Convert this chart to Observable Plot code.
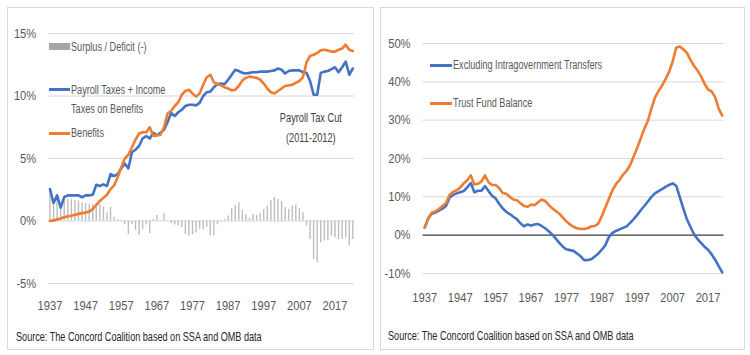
<!DOCTYPE html>
<html>
<head>
<meta charset="utf-8">
<script src="https://cdn.jsdelivr.net/npm/d3@7"></script>
<script src="https://cdn.jsdelivr.net/npm/@observablehq/plot@0.6"></script>
<style>
  html, body { margin: 0; padding: 0; background: #fff; }
  #root { position: relative; width: 750px; height: 355px; background: #fff; overflow: hidden;
          font-family: "Liberation Sans", Arial, sans-serif; }
  .panel { position: absolute; box-sizing: border-box; border: 1px solid #d9d9d9; }
  .plot { position: absolute; top: 0; }
  .lg { position: absolute; font-size: 12.5px; color: #595959; line-height: 14px; white-space: nowrap;
        transform: scaleX(0.73); transform-origin: left center; }
  .sw { position: absolute; }
  .src { position: absolute; font-size: 13px; color: #262626; white-space: nowrap; line-height: 14px;
         transform: scaleX(0.70); transform-origin: left center; }
</style>
</head>
<body>
<div id="root">
  <div class="panel" style="left:7px;top:7px;width:367px;height:343px"></div>
  <div class="panel" style="left:380px;top:7px;width:365px;height:343px"></div>
</div>
<script>
// ---------- Left panel data (percent of taxable payroll), 1937–2022 ----------
const leftStartYear = 1937;
const leftTaxes = [
  2.56, 1.44, 2.05, 1.07, 1.92, 2.05, 2.05, 2.05, 2.05, 1.9,   // 1937-1946
  2.05, 2.05, 2.1, 2.9, 2.8, 2.93, 2.8, 3.75, 3.6, 3.75,       // 1947-1956
  4.2, 4.6, 4.2, 5.5, 5.7, 6.0, 6.6, 6.8, 6.6, 7.05,           // 1957-1966
  6.85, 7.05, 7.3, 7.9, 8.65, 8.4, 8.7, 8.9, 9.2, 9.3,         // 1967-1976
  9.3, 9.25, 9.45, 10.0, 10.3, 10.35, 10.7, 10.95, 11.0, 10.95,// 1977-1986
  11.3, 11.7, 12.1, 12.0, 11.85, 11.8, 11.85, 11.9, 11.9, 11.95,// 1987-1996
  11.95, 11.95, 12.0, 12.05, 12.2, 12.1, 11.8, 12.0, 12.05, 12.05,// 1997-2006
  12.05, 11.9, 11.85, 11.2, 10.1, 10.1, 11.85, 11.95, 12.0, 12.15,// 2007-2016
  12.3, 11.9, 12.3, 12.75, 11.7, 12.2                          // 2017-2022
];
const leftBenefits = [
  0.0, 0.05, 0.13, 0.2, 0.3, 0.37, 0.42, 0.5, 0.57, 0.63,
  0.68, 0.75, 0.95, 1.3, 1.6, 1.85, 2.1, 2.55, 2.85, 3.5,
  4.3, 5.0, 5.3, 5.9, 6.5, 7.0, 7.1, 7.1, 7.5, 6.8,
  6.85, 6.9, 7.5, 8.6, 8.8, 9.2, 9.5, 10.1, 10.4, 10.5,
  10.2, 9.95, 10.2, 10.9, 11.5, 11.7, 11.1, 10.95, 10.85, 10.7,
  10.6, 10.45, 10.5, 10.8, 11.25, 11.45, 11.55, 11.5, 11.45, 11.3,
  11.0, 10.6, 10.3, 10.2, 10.4, 10.6, 10.8, 10.85, 10.9, 11.05,
  11.2, 11.5, 12.7, 13.2, 13.3, 13.45, 13.65, 13.7, 13.65, 13.55,
  13.55, 13.7, 13.8, 14.1, 13.7, 13.6
];
const leftSurplus = [
  2.4, 1.4, 1.8, 1.0, 1.7, 1.75, 1.7, 1.65, 1.6, 1.45,
  1.4, 1.35, 1.3, 1.2, 1.33, 1.12, 0.67, 1.07, 0.32, 0.13,
  -0.08, -0.27, -1.07, -0.27, -0.75, -1.15, -0.67, -0.32, -1.0, 0.13,
  0.45, 0.05, 0.6, 0.03, -0.2, -0.32, -0.4, -0.53, -1.07, -1.2,
  -1.1, -0.95, -0.65, -0.7, -0.5, -1.2, -1.2, -0.3, -0.05, 0.13,
  0.4, 1.0, 1.25, 1.47, 0.85, 0.48, 0.2, 0.53, 0.45, 0.6,
  0.93, 1.2, 1.65, 1.87, 1.73, 1.55, 1.07, 0.93, 1.2, 1.28,
  1.0, 0.67, -0.4, -1.47, -3.07, -3.33, -1.73, -1.6, -1.55, -1.2,
  -1.33, -1.47, -1.47, -1.33, -2.0, -1.47
];
const leftYTicks = [-5, 0, 5, 10, 15];
const xTickYears = [1937, 1947, 1957, 1967, 1977, 1987, 1997, 2007, 2017];
const leftAnnotation = [{ year: 2010.2, value: 7.65, label: "Payroll Tax Cut\n(2011-2012)" }];

// ---------- Right panel data (percent), 1937–2021 ----------
const rightStartYear = 1937;
const rightExcluding = [
  2.0, 4.4, 5.6, 5.9, 6.4, 6.9, 7.6, 9.8, 10.5, 10.9,
  11.2, 11.5, 12.5, 13.6, 11.2, 11.6, 11.6, 12.8, 11.5, 10.3,
  9.6, 8.2, 7.0, 6.1, 5.5, 4.8, 4.2, 3.1, 2.3, 2.8,
  2.5, 2.8, 2.9, 2.4, 1.8, 1.0, 0.2, -0.9, -2.0, -3.0,
  -3.7, -3.9, -4.1, -4.8, -5.5, -6.5, -6.5, -6.3, -5.6, -4.8,
  -3.8, -2.6, -0.5, 0.6, 1.1, 1.5, 1.9, 2.3, 3.2, 4.2,
  5.3, 6.5, 7.6, 8.8, 10.0, 10.9, 11.5, 12.0, 12.6, 13.1,
  13.5, 12.9, 10.0, 7.0, 4.2, 2.2, 0.3, -1.0, -2.0, -3.0,
  -3.8, -5.0, -6.4, -8.1, -9.7
];
const rightTrustFund = [
  2.0, 4.4, 5.9, 6.2, 6.8, 7.6, 8.4, 10.5, 11.3, 11.7,
  12.4, 13.5, 14.3, 15.6, 13.2, 13.4, 14.0, 15.6, 13.8, 13.1,
  13.1, 12.3, 11.0, 10.8, 10.0, 9.3, 9.1, 8.4, 7.6, 7.4,
  8.0, 7.8, 8.6, 9.3, 8.9, 7.9, 7.0, 6.3, 5.6, 4.6,
  3.6, 2.8, 2.2, 1.8, 1.6, 1.6, 1.8, 2.3, 2.4, 3.0,
  5.0, 7.2, 9.5, 11.7, 13.3, 14.4, 15.8, 16.8, 18.3, 20.5,
  22.8, 25.3, 27.8, 29.8, 33.0, 35.9, 37.6, 39.0, 40.7, 42.6,
  45.3, 48.9, 49.2, 48.5, 47.6, 45.8, 44.2, 43.0, 41.5, 39.5,
  38.0, 37.5, 36.0, 33.0, 31.2
];
const rightYTicks = [-10, 0, 10, 20, 30, 40, 50];

const BLUE = "#4472C4", ORANGE = "#ED7D31", GRID = "#d9d9d9", LABEL = "#595959";
const FONT = '"Liberation Sans", Arial, sans-serif';

const leftData = leftTaxes.map((t, i) => ({
  year: leftStartYear + i, taxes: t, benefits: leftBenefits[i], surplus: leftSurplus[i]
}));
const rightData = rightExcluding.map((e, i) => ({
  year: rightStartYear + i, excl: e, fund: rightTrustFund[i]
}));

const root = document.getElementById("root");

// Squeeze SVG texts horizontally around their anchor, by wrapping each in a scaled <g>
function squeezeAll(svg, selector, k, anchor) {
  svg.querySelectorAll(selector).forEach(t => {
    const r = t.getBoundingClientRect();
    if (!r.width) return;
    const parent = t.parentNode;
    const inv = parent.getScreenCTM().inverse();
    const pt = svg.createSVGPoint();
    pt.x = anchor === "end" ? r.right : anchor === "start" ? r.left : (r.left + r.right) / 2;
    pt.y = r.top;
    const p = pt.matrixTransform(inv);
    const g = document.createElementNS("http://www.w3.org/2000/svg", "g");
    g.setAttribute("transform", `translate(${p.x},0) scale(${k},1) translate(${-p.x},0)`);
    parent.insertBefore(g, t);
    g.appendChild(t);
  });
}
function condense(svg) {
  squeezeAll(svg, "g[aria-label='x-axis tick label'] text", 0.86, "middle");
  squeezeAll(svg, "g[aria-label='y-axis tick label'] text", 0.86, "end");
  squeezeAll(svg, "g[aria-label='text'] text", 0.74, "middle");
}

// ----- Left chart -----
const left = Plot.plot({
  width: 377, height: 355,
  marginLeft: 47.7, marginRight: 22.9, marginTop: 33, marginBottom: 72,
  style: { background: "transparent", fontFamily: FONT, color: LABEL, overflow: "visible" },
  x: { type: "linear", domain: [1936.5, 2022.5], label: null },
  y: { domain: [-5, 15], label: null },
  marks: [
    Plot.ruleY(leftYTicks, { stroke: GRID, strokeWidth: 1 }),
    Plot.ruleX(leftData, { x: "year", y1: 0, y2: "surplus", stroke: "#bdbdbd", strokeWidth: 1.4 }),
    Plot.line(leftData, { x: "year", y: "taxes", stroke: BLUE, strokeWidth: 2.6, strokeLinejoin: "round" }),
    Plot.line(leftData, { x: "year", y: "benefits", stroke: ORANGE, strokeWidth: 2.6, strokeLinejoin: "round" }),
    Plot.text(leftAnnotation, { x: "year", y: "value", text: "label", fontSize: 12.5, lineHeight: 1.6, fill: "#404040", textAnchor: "middle" }),
    Plot.axisX({ ticks: xTickYears, tickFormat: d => `${d}`, tickSize: 0, tickPadding: 17, fontSize: 13, fill: LABEL, label: null }),
    Plot.axisY({ ticks: leftYTicks, tickFormat: d => `${d}%`, tickSize: 0, tickPadding: 12, fontSize: 13, fill: LABEL, label: null })
  ]
});
left.classList.add("plot");
left.style.left = "0px";
root.appendChild(left);
condense(left);

// ----- Right chart -----
const right = Plot.plot({
  width: 373, height: 355,
  marginLeft: 45.5, marginRight: 26.5, marginTop: 43, marginBottom: 82,
  style: { background: "transparent", fontFamily: FONT, color: LABEL, overflow: "visible" },
  x: { type: "linear", domain: [1936.5, 2021.5], label: null },
  y: { domain: [-10, 50], label: null },
  marks: [
    Plot.ruleY(rightYTicks.filter(d => d !== 0), { stroke: GRID, strokeWidth: 1 }),
    Plot.ruleY([0], { stroke: "#3a3a3a", strokeWidth: 1.4 }),
    Plot.line(rightData, { x: "year", y: "excl", stroke: BLUE, strokeWidth: 2.6, strokeLinejoin: "round" }),
    Plot.line(rightData, { x: "year", y: "fund", stroke: ORANGE, strokeWidth: 2.6, strokeLinejoin: "round" }),
    Plot.axisX({ ticks: xTickYears, tickFormat: d => `${d}`, tickSize: 0, tickPadding: 19, fontSize: 13, fill: LABEL, label: null }),
    Plot.axisY({ ticks: rightYTicks, tickFormat: d => `${d}%`, tickSize: 0, tickPadding: 12.5, fontSize: 13, fill: LABEL, label: null })
  ]
});
right.classList.add("plot");
right.style.left = "377px";
root.appendChild(right);
condense(right);

// ----- Legends, sources (HTML overlay) -----
function add(html) { root.insertAdjacentHTML("beforeend", html); }
add(`<div class="sw" style="left:49px;top:43px;width:21px;height:7px;background:#a6a6a6"></div>`);
add(`<div class="lg" style="left:71px;top:40px">Surplus / Deficit (-)</div>`);
add(`<div class="sw" style="left:49px;top:88px;width:21px;height:3px;background:${BLUE}"></div>`);
add(`<div class="lg" style="left:71px;top:83px">Payroll Taxes + Income</div>`);
add(`<div class="lg" style="left:71px;top:101.5px">Taxes on Benefits</div>`);
add(`<div class="sw" style="left:49px;top:131.5px;width:21px;height:3px;background:${ORANGE}"></div>`);
add(`<div class="lg" style="left:71px;top:126px">Benefits</div>`);

add(`<div class="sw" style="left:430px;top:63.5px;width:22px;height:3px;background:${BLUE}"></div>`);
add(`<div class="lg" style="left:453px;top:58px">Excluding Intragovernment Transfers</div>`);
add(`<div class="sw" style="left:430px;top:101.5px;width:22px;height:3px;background:${ORANGE}"></div>`);
add(`<div class="lg" style="left:453px;top:96px">Trust Fund Balance</div>`);

add(`<div class="src" style="left:16px;top:330px">Source: The Concord Coalition based on SSA and OMB data</div>`);
add(`<div class="src" style="left:388px;top:329px">Source: The Concord Coalition based on SSA and OMB data</div>`);
</script>
</body>
</html>
